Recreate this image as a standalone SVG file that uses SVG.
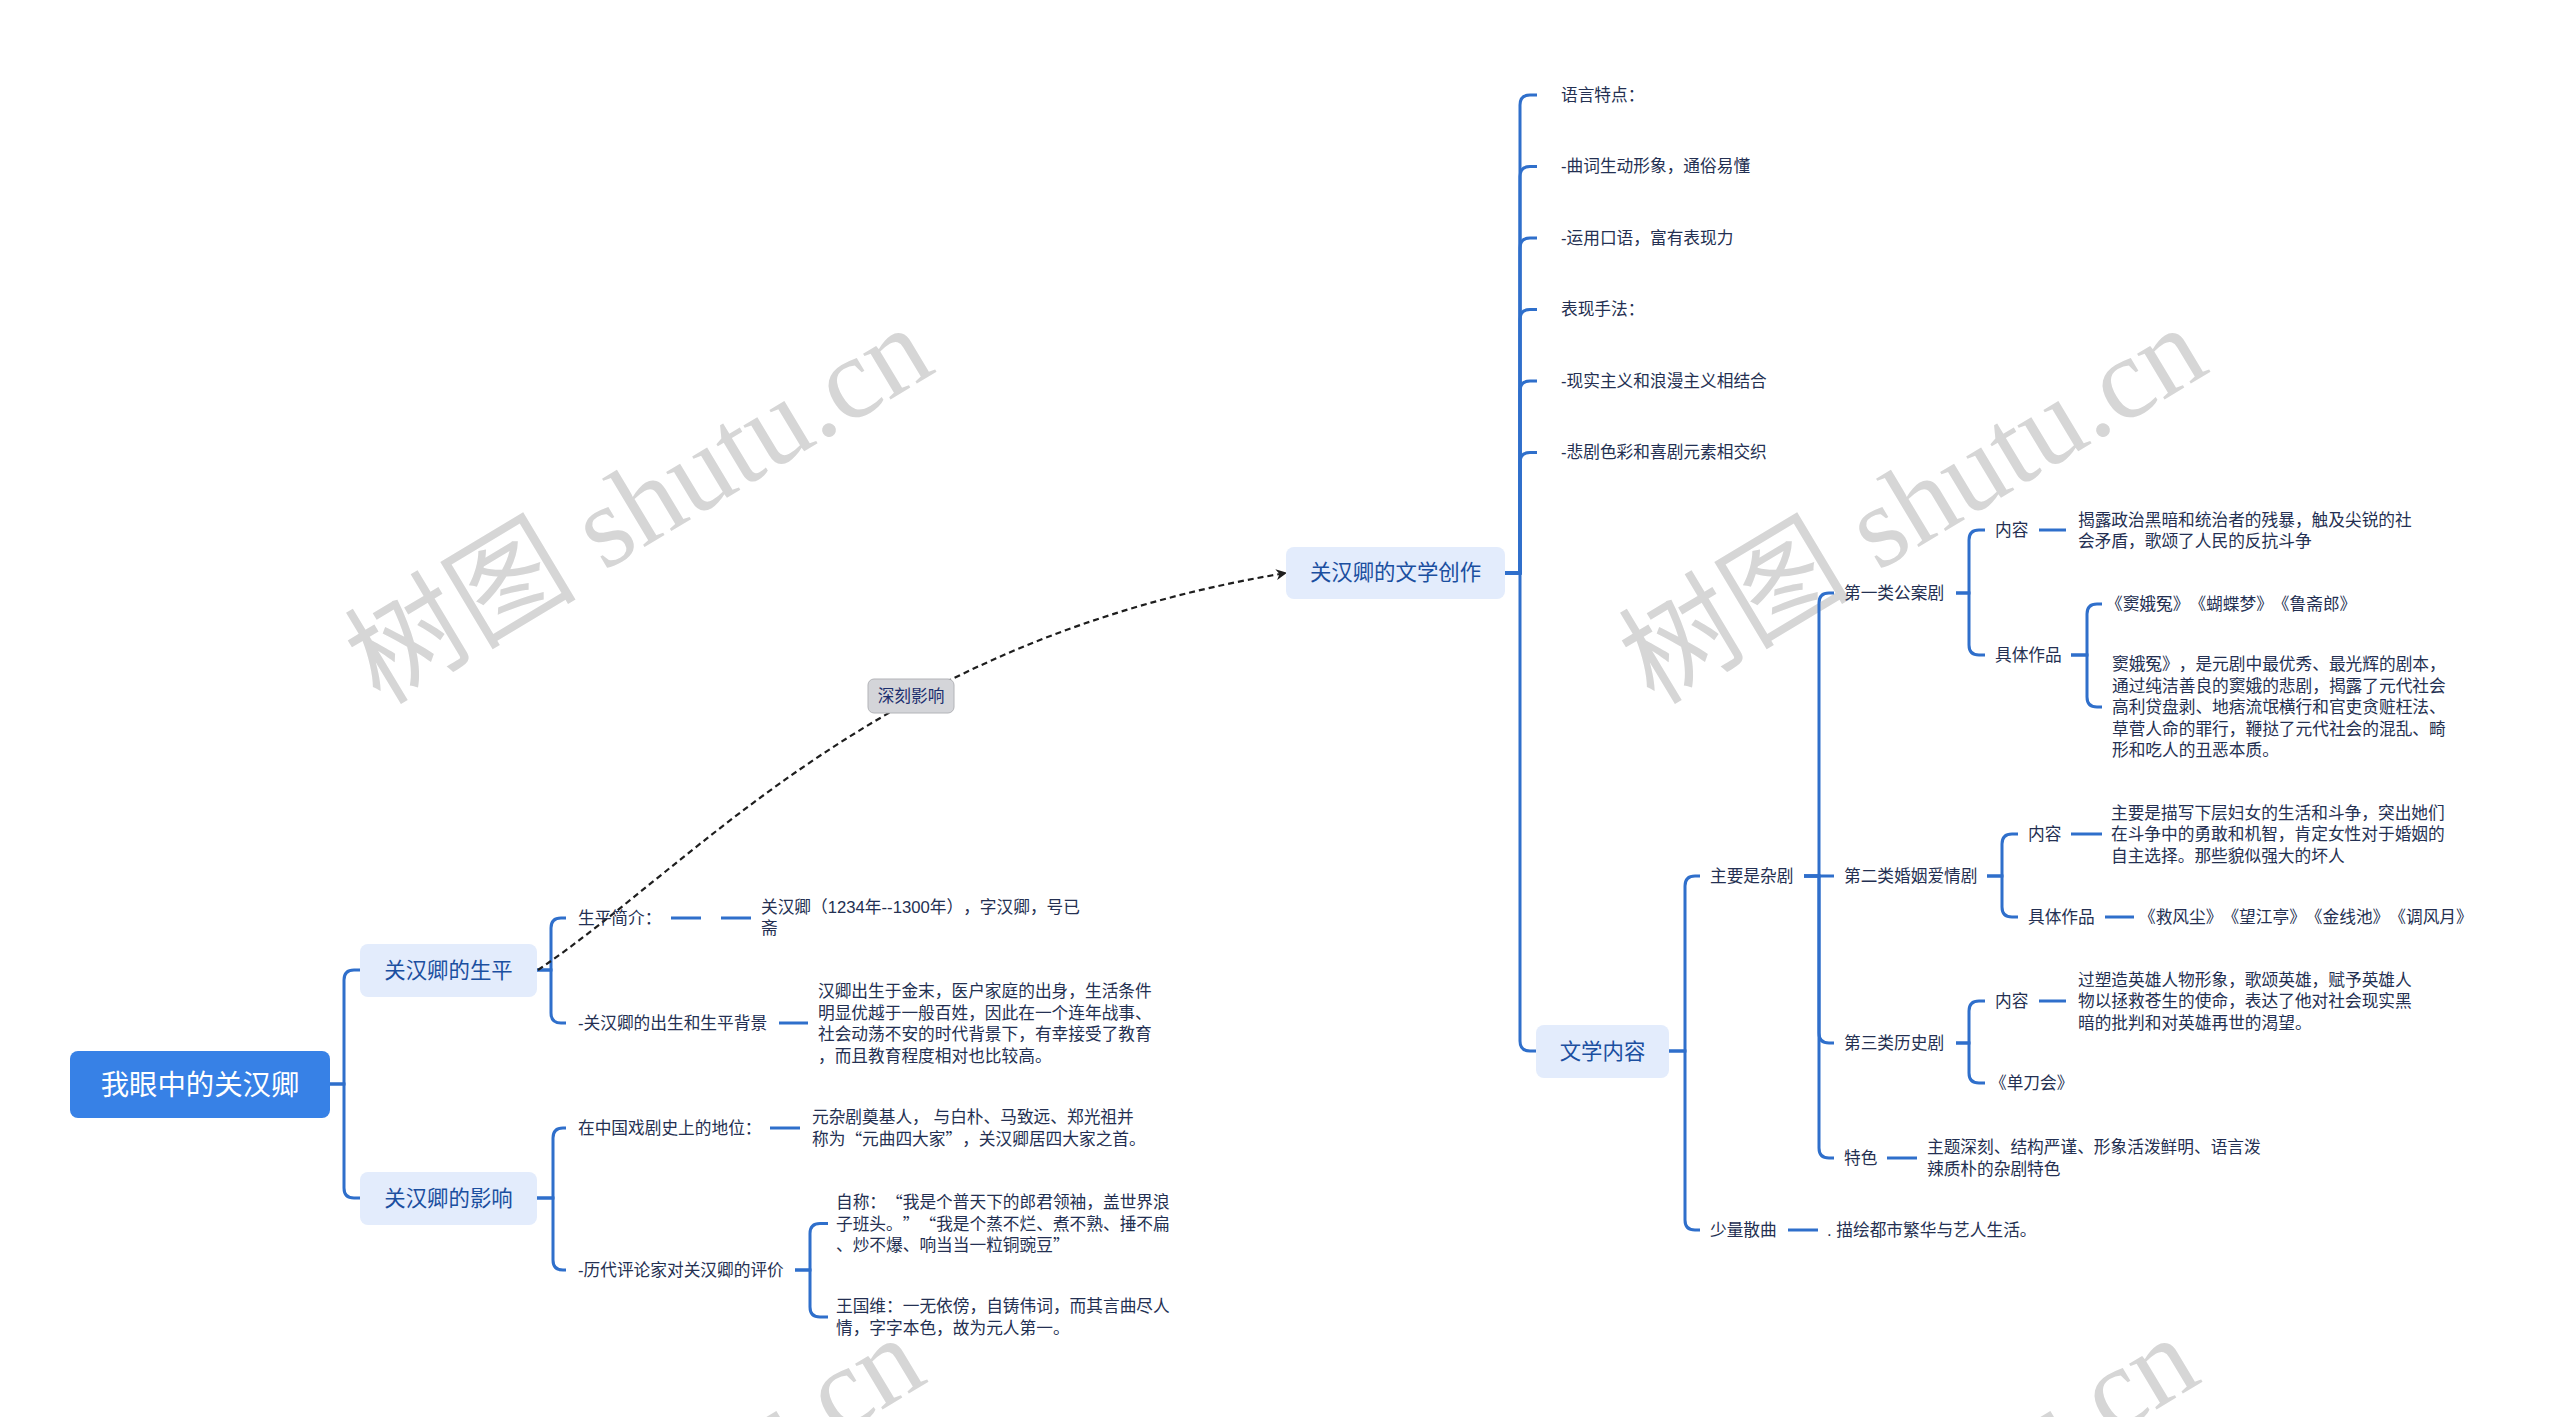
<svg xmlns="http://www.w3.org/2000/svg" width="2560" height="1417" viewBox="0 0 2560 1417">
<style>
text{font-family:"Liberation Sans","Noto Sans CJK SC",sans-serif;dominant-baseline:central;text-spacing-trim:space-all}
.q{font-family:"Noto Sans CJK SC","Liberation Sans",sans-serif}
.wm{font-family:"Liberation Serif","Noto Sans CJK SC",serif;font-size:116px;fill:#d6d6d6;dominant-baseline:alphabetic}
.root rect{fill:#3781e6}
.root text{fill:#fff;font-size:28.4px;text-anchor:middle}
.n2 rect{fill:#e3ecfc}
.n2 text{fill:#1b4fa0;font-size:21.4px;text-anchor:middle}
.lf{fill:#243052;font-size:16.7px}
.cn path{fill:none;stroke:#2f6fcb;stroke-width:3}
.cn path.dl{stroke-dasharray:30 20}
.lbl rect{fill:#d4d5d9;stroke:#b3b4b8;stroke-width:1}
.lbl text{fill:#1c2f6e;font-size:16.7px;text-anchor:middle}
</style>
<defs>
<marker id="arr" viewBox="0 0 10 10" refX="9" refY="5" markerWidth="5" markerHeight="5" orient="auto" markerUnits="strokeWidth">
<path d="M0 0 L10 5 L0 10 L3 5 Z" fill="#1e1e1e"/>
</marker>
</defs>
<rect width="2560" height="1417" fill="#fff"/>

<g id="watermarks">
<text class="wm" transform="translate(380 706) rotate(-31)">树图 shutu.cn</text>
<text class="wm" transform="translate(1654 706) rotate(-31)">树图 shutu.cn</text>
<text class="wm" transform="translate(372 1716) rotate(-31)">树图 shutu.cn</text>
<text class="wm" transform="translate(1646 1716) rotate(-31)">树图 shutu.cn</text>
</g>

<g id="connectors" class="cn">
<path d="M330 1084 H344 V980 Q344 970 354 970 H360"/>
<path d="M330 1084 H344 V1188 Q344 1198 354 1198 H360"/>
<path d="M537 970 H551 V928 Q551 918 561 918 H566"/>
<path d="M537 970 H551 V1013 Q551 1023 561 1023 H566"/>
<path class="dl" d="M671 918 H751"/>
<path d="M779 1023 H808"/>
<path d="M537 1198 H553 V1138 Q553 1128 563 1128 H566"/>
<path d="M537 1198 H553 V1260 Q553 1270 563 1270 H566"/>
<path d="M770 1128 H800"/>
<path d="M795 1270 H810 V1233.5 Q810 1223.5 820 1223.5 H828"/>
<path d="M795 1270 H810 V1307 Q810 1317 820 1317 H828"/>
<path d="M1505 573 H1520 V105 Q1520 95 1530 95 H1537"/>
<path d="M1505 573 H1520 V176.5 Q1520 166.5 1530 166.5 H1537"/>
<path d="M1505 573 H1520 V248 Q1520 238 1530 238 H1537"/>
<path d="M1505 573 H1520 V319.5 Q1520 309.5 1530 309.5 H1537"/>
<path d="M1505 573 H1520 V391 Q1520 381 1530 381 H1537"/>
<path d="M1505 573 H1520 V462.5 Q1520 452.5 1530 452.5 H1537"/>
<path d="M1505 573 H1520 V1041 Q1520 1051 1530 1051 H1536"/>
<path d="M1669 1051 H1685 V886 Q1685 876 1695 876 H1700"/>
<path d="M1669 1051 H1685 V1220 Q1685 1230 1695 1230 H1700"/>
<path d="M1804 876 H1819 V603 Q1819 593 1829 593 H1834"/>
<path d="M1804 876 H1834"/>
<path d="M1804 876 H1819 V1033 Q1819 1043 1829 1043 H1834"/>
<path d="M1804 876 H1819 V1148 Q1819 1158 1829 1158 H1834"/>
<path d="M1956 593 H1969 V540 Q1969 530 1979 530 H1985"/>
<path d="M1956 593 H1969 V645 Q1969 655 1979 655 H1985"/>
<path d="M2039 530 H2066"/>
<path d="M2071 655 H2087 V614 Q2087 604 2097 604 H2102"/>
<path d="M2071 655 H2087 V697 Q2087 707 2097 707 H2102"/>
<path d="M1987 876 H2002 V844 Q2002 834 2012 834 H2018"/>
<path d="M1987 876 H2002 V907 Q2002 917 2012 917 H2018"/>
<path d="M2071 834 H2102"/>
<path d="M2105 917 H2134"/>
<path d="M1956 1043 H1969 V1011 Q1969 1001 1979 1001 H1985"/>
<path d="M1956 1043 H1969 V1073 Q1969 1083 1979 1083 H1985"/>
<path d="M2039 1001 H2066"/>
<path d="M1887 1158 H1917"/>
<path d="M1788 1230 H1818"/>
<path d="M538 970 C700 860 880 640 1286 573" marker-end="url(#arr)" style="stroke:#1e1e1e;stroke-width:2.2;stroke-dasharray:6 4"/>
</g>

<g id="label-shenke" class="lbl">
<rect x="868" y="679" width="86" height="34" rx="6"/>
<text x="911" y="696">深刻影响</text>
</g>

<g id="root" class="root">
<rect x="70" y="1051" width="260" height="67" rx="8"/>
<text x="200" y="1084.5">我眼中的关汉卿</text>
</g>

<g id="n-shengping" class="n2">
<rect x="360" y="944" width="177" height="53" rx="8"/>
<text x="448.5" y="970.5">关汉卿的生平</text>
</g>
<g id="n-yingxiang" class="n2">
<rect x="360" y="1172" width="177" height="53" rx="8"/>
<text x="448.5" y="1198.5">关汉卿的影响</text>
</g>
<g id="n-chuangzuo" class="n2">
<rect x="1286" y="547" width="219" height="52" rx="8"/>
<text x="1395.5" y="573">关汉卿的文学创作</text>
</g>
<g id="n-neirong" class="n2">
<rect x="1536" y="1025" width="133" height="53" rx="8"/>
<text x="1602.5" y="1051.5">文学内容</text>
</g>

<g id="t-jianjie"><text class="lf" x="578" y="918">生平简介：</text></g>
<g id="t-jianjie-c"><text class="lf" x="761"><tspan x="761" y="906.5">关汉卿（1234年--1300年），字汉卿，号已</tspan><tspan x="761" y="927.5">斋</tspan></text></g>
<g id="t-beijing"><text class="lf" x="578" y="1023">-关汉卿的出生和生平背景</text></g>
<g id="t-beijing-c"><text class="lf"><tspan x="818" y="991">汉卿出生于金末，医户家庭的出身，生活条件</tspan><tspan x="818" y="1012.5">明显优越于一般百姓，因此在一个连年战事、</tspan><tspan x="818" y="1034">社会动荡不安的时代背景下，有幸接受了教育</tspan><tspan x="818" y="1055.5">，而且教育程度相对也比较高。</tspan></text></g>
<g id="t-diwei"><text class="lf" x="578" y="1128">在中国戏剧史上的地位：</text></g>
<g id="t-diwei-c"><text class="lf"><tspan x="812" y="1117">元杂剧奠基人， 与白朴、马致远、郑光祖并</tspan><tspan x="812" y="1138.5">称为<tspan class="q">“</tspan>元曲四大家<tspan class="q">”</tspan>，关汉卿居四大家之首。</tspan></text></g>
<g id="t-pingjia"><text class="lf" x="578" y="1270">-历代评论家对关汉卿的评价</text></g>
<g id="t-zicheng"><text class="lf"><tspan x="836" y="1202">自称：<tspan class="q">“</tspan>我是个普天下的郎君领袖，盖世界浪</tspan><tspan x="836" y="1223.5">子班头。<tspan class="q">”“</tspan>我是个蒸不烂、煮不熟、捶不扁</tspan><tspan x="836" y="1245">、炒不爆、响当当一粒铜豌豆<tspan class="q">”</tspan></tspan></text></g>
<g id="t-wangguowei"><text class="lf"><tspan x="836" y="1306">王国维：一无依傍，自铸伟词，而其言曲尽人</tspan><tspan x="836" y="1327.5">情，字字本色，故为元人第一。</tspan></text></g>

<g id="t-yuyan"><text class="lf" x="1561" y="95">语言特点：</text></g>
<g id="t-quci"><text class="lf" x="1561" y="166.5">-曲词生动形象，通俗易懂</text></g>
<g id="t-kouyu"><text class="lf" x="1561" y="238">-运用口语，富有表现力</text></g>
<g id="t-biaoxian"><text class="lf" x="1561" y="309.5">表现手法：</text></g>
<g id="t-xianshi"><text class="lf" x="1561" y="381">-现实主义和浪漫主义相结合</text></g>
<g id="t-beiju"><text class="lf" x="1561" y="452.5">-悲剧色彩和喜剧元素相交织</text></g>

<g id="t-zaju"><text class="lf" x="1710" y="876">主要是杂剧</text></g>
<g id="t-sanqu"><text class="lf" x="1710" y="1230">少量散曲</text></g>
<g id="t-sanqu-c"><text class="lf" x="1827" y="1230">. 描绘都市繁华与艺人生活。</text></g>

<g id="t-gongan"><text class="lf" x="1844" y="593">第一类公案剧</text></g>
<g id="t-gongan-nr"><text class="lf" x="1995" y="530">内容</text></g>
<g id="t-gongan-nr-c"><text class="lf"><tspan x="2078" y="519.5">揭露政治黑暗和统治者的残暴，触及尖锐的社</tspan><tspan x="2078" y="541">会矛盾，歌颂了人民的反抗斗争</tspan></text></g>
<g id="t-gongan-zp"><text class="lf" x="1995" y="655">具体作品</text></g>
<g id="t-gongan-zp-1"><text class="lf" x="2106" y="604">《窦娥冤》《蝴蝶梦》《鲁斋郎》</text></g>
<g id="t-gongan-zp-2"><text class="lf"><tspan x="2112" y="664">窦娥冤》，是元剧中最优秀、最光辉的剧本，</tspan><tspan x="2112" y="685.5">通过纯洁善良的窦娥的悲剧，揭露了元代社会</tspan><tspan x="2112" y="707">高利贷盘剥、地痞流氓横行和官吏贪赃枉法、</tspan><tspan x="2112" y="728.5">草菅人命的罪行，鞭挞了元代社会的混乱、畸</tspan><tspan x="2112" y="750">形和吃人的丑恶本质。</tspan></text></g>

<g id="t-hunyin"><text class="lf" x="1844" y="876">第二类婚姻爱情剧</text></g>
<g id="t-hunyin-nr"><text class="lf" x="2028" y="834">内容</text></g>
<g id="t-hunyin-nr-c"><text class="lf"><tspan x="2111" y="812.5">主要是描写下层妇女的生活和斗争，突出她们</tspan><tspan x="2111" y="834">在斗争中的勇敢和机智，肯定女性对于婚姻的</tspan><tspan x="2111" y="855.5">自主选择。那些貌似强大的坏人</tspan></text></g>
<g id="t-hunyin-zp"><text class="lf" x="2028" y="917">具体作品</text></g>
<g id="t-hunyin-zp-c"><text class="lf" x="2139" y="917">《救风尘》《望江亭》《金线池》《调风月》</text></g>

<g id="t-lishi"><text class="lf" x="1844" y="1043">第三类历史剧</text></g>
<g id="t-lishi-nr"><text class="lf" x="1995" y="1001">内容</text></g>
<g id="t-lishi-nr-c"><text class="lf"><tspan x="2078" y="979.5">过塑造英雄人物形象，歌颂英雄，赋予英雄人</tspan><tspan x="2078" y="1001">物以拯救苍生的使命，表达了他对社会现实黑</tspan><tspan x="2078" y="1022.5">暗的批判和对英雄再世的渴望。</tspan></text></g>
<g id="t-dandao"><text class="lf" x="1990" y="1083">《单刀会》</text></g>

<g id="t-tese"><text class="lf" x="1844" y="1158">特色</text></g>
<g id="t-tese-c"><text class="lf"><tspan x="1927" y="1147">主题深刻、结构严谨、形象活泼鲜明、语言泼</tspan><tspan x="1927" y="1168.5">辣质朴的杂剧特色</tspan></text></g>
</svg>
